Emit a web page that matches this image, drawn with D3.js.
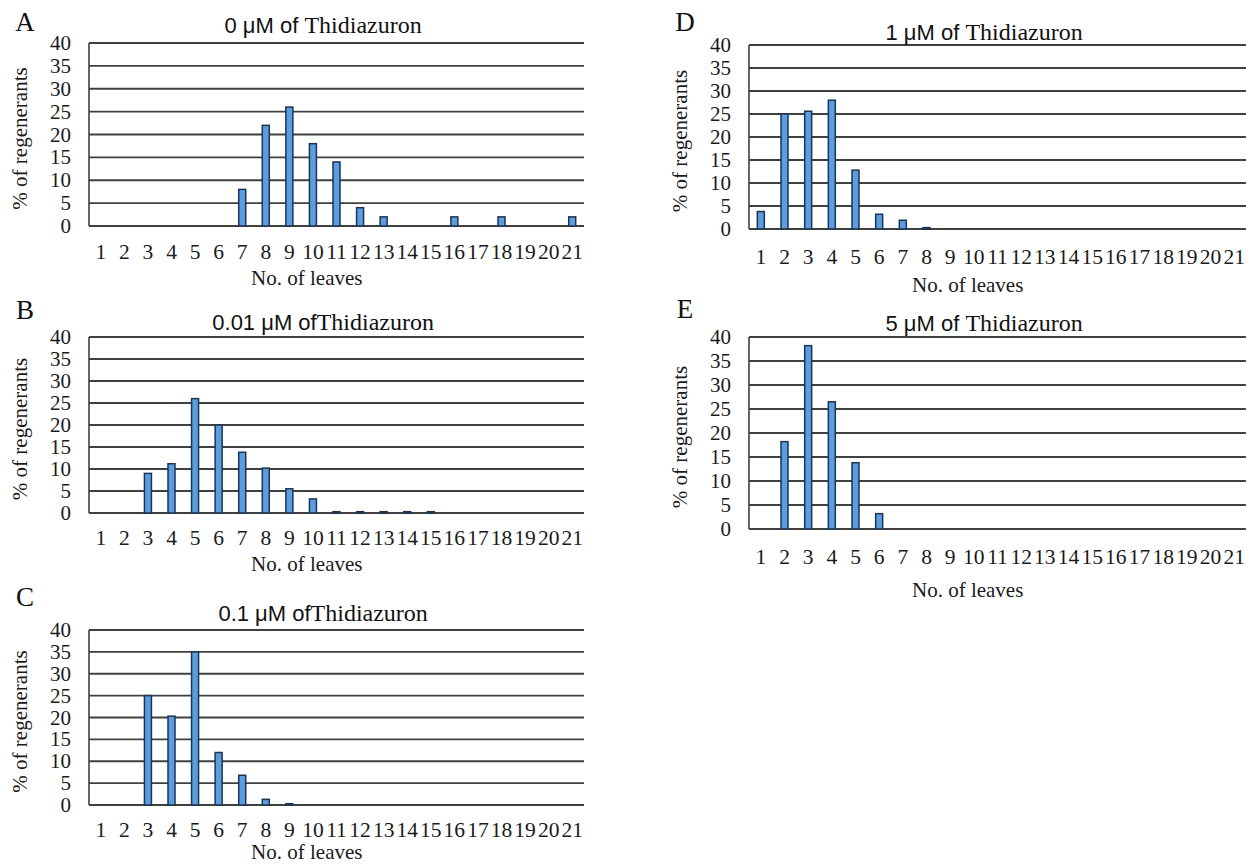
<!DOCTYPE html>
<html>
<head>
<meta charset="utf-8">
<script src="https://cdn.jsdelivr.net/npm/d3@7"></script>
<style>
  body { margin: 0; background: #fff; }
  svg { display: block; }
</style>
</head>
<body>
<svg id="chart" width="1252" height="865"></svg>
<script>
// no. of leaves (x categories)
var leaves = ["1","2","3","4","5","6","7","8","9","10","11","12","13","14","15","16","17","18","19","20","21"];
var yTicks = [0, 5, 10, 15, 20, 25, 30, 35, 40];

// % of regenerants per leaf count
var tdz0    = [0, 0, 0, 0, 0, 0, 8, 22, 26, 18, 14, 4, 2, 0, 0, 2, 0, 2, 0, 0, 2];
var tdz001  = [0, 0, 9, 11.2, 26, 20, 13.8, 10.2, 5.5, 3.2, 0.3, 0.3, 0.3, 0.3, 0.3, 0, 0, 0, 0, 0, 0];
var tdz01   = [0, 0, 25, 20.3, 35, 12, 6.8, 1.3, 0.3, 0, 0, 0, 0, 0, 0, 0, 0, 0, 0, 0, 0];
var tdz1    = [3.8, 25, 25.6, 28, 12.8, 3.2, 1.9, 0.3, 0, 0, 0, 0, 0, 0, 0, 0, 0, 0, 0, 0, 0];
var tdz5    = [0, 18.2, 38.2, 26.5, 13.8, 3.2, 0, 0, 0, 0, 0, 0, 0, 0, 0, 0, 0, 0, 0, 0, 0];

var letters = ["A", "B", "C", "D", "E"];
var doses   = ["0 μM of ", "0.01 μM of", "0.1 μM of", "1 μM of ", "5 μM of "];
var series  = [tdz0, tdz001, tdz01, tdz1, tdz5];

// panel frames + text offsets
var layout = [
  {l: 89,  r: 584,  t: 43,  b: 226, letY: -21, titY: -18, tickY: 26, xtY: 52},
  {l: 89,  r: 584,  t: 337, b: 513, letY: -27, titY: -15, tickY: 25, xtY: 51},
  {l: 89,  r: 584,  t: 630, b: 805, letY: -33, titY: -17, tickY: 25, xtY: 47},
  {l: 749, r: 1246, t: 45,  b: 229, letY: -23, titY: -13, tickY: 28, xtY: 56},
  {l: 749, r: 1246, t: 337, b: 529, letY: -28, titY: -14, tickY: 28, xtY: 61}
];

var serif = "'Liberation Serif', 'Times New Roman', serif";
var sans = "'Liberation Sans', Arial, sans-serif";

var svg = d3.select("#chart");

for (var i = 0; i < series.length; i++) {
  drawPanel(i);
}

function drawPanel(i) {
  var L = layout[i];
  var g = svg.append("g");

  var x = d3.scaleBand().domain(leaves).range([L.l, L.r]);
  var y = d3.scaleLinear().domain([0, 40]).range([L.b, L.t]);

  // gridlines
  g.selectAll("line.grid")
    .data(yTicks)
    .enter()
    .append("line")
    .attr("class", "grid")
    .attr("x1", L.l)
    .attr("x2", L.r)
    .attr("y1", function(d) { return y(d); })
    .attr("y2", function(d) { return y(d); })
    .style("stroke", "#404040")
    .style("stroke-width", 1.8);

  // left axis line
  g.append("line")
    .attr("x1", L.l).attr("x2", L.l)
    .attr("y1", y(40)).attr("y2", y(0))
    .style("stroke", "#404040")
    .style("stroke-width", 1.6);

  // y tick labels
  g.selectAll("text.ytick")
    .data(yTicks)
    .enter()
    .append("text")
    .attr("class", "ytick")
    .attr("x", L.l - 18)
    .attr("y", function(d) { return y(d); })
    .attr("text-anchor", "end")
    .attr("dominant-baseline", "central")
    .style("font-family", serif)
    .style("font-size", "21px")
    .style("fill", "#1a1a1a")
    .text(function(d) { return d; });

  // x tick labels
  g.selectAll("text.xtick")
    .data(leaves)
    .enter()
    .append("text")
    .attr("class", "xtick")
    .attr("x", function(d) { return x(d) + x.bandwidth() / 2; })
    .attr("y", L.b + L.tickY)
    .attr("text-anchor", "middle")
    .attr("dominant-baseline", "central")
    .style("font-family", serif)
    .style("font-size", "21.5px")
    .style("fill", "#1a1a1a")
    .text(function(d) { return d; });

  // bars
  var bw = 7;
  g.selectAll("rect.bar")
    .data(series[i].map(function(v, k) { return {leaf: leaves[k], value: v}; })
      .filter(function(d) { return d.value > 0; }))
    .enter()
    .append("rect")
    .attr("class", "bar")
    .attr("x", function(d) { return x(d.leaf) + x.bandwidth() / 2 - bw / 2; })
    .attr("y", function(d) { return y(d.value); })
    .attr("width", bw)
    .attr("height", function(d) { return y(0) - y(d.value); })
    .style("fill", "#5b9de0")
    .style("stroke", "#1c3550")
    .style("stroke-width", 1.5);

  // panel letter
  g.append("text")
    .attr("x", L.l - 64)
    .attr("y", L.t + L.letY)
    .attr("text-anchor", "middle")
    .attr("dominant-baseline", "central")
    .style("font-family", serif)
    .style("font-size", "27px")
    .style("fill", "#111")
    .text(letters[i]);

  // title: dose in sans, compound name in serif
  var title = g.append("text")
    .attr("x", L.l + (L.r - L.l) * 0.473)
    .attr("y", L.t + L.titY)
    .attr("text-anchor", "middle")
    .attr("dominant-baseline", "central")
    .style("fill", "#111");
  title.append("tspan")
    .style("font-family", sans)
    .style("font-size", "22px")
    .text(doses[i]);
  title.append("tspan")
    .style("font-family", serif)
    .style("font-size", "24px")
    .text("Thidiazuron");

  // x axis title
  g.append("text")
    .attr("x", L.l + (L.r - L.l) * 0.44)
    .attr("y", L.b + L.xtY)
    .attr("text-anchor", "middle")
    .attr("dominant-baseline", "central")
    .style("font-family", serif)
    .style("font-size", "21px")
    .style("fill", "#1a1a1a")
    .text("No. of leaves");

  // y axis title
  var cy = (L.t + L.b) / 2 + 4;
  g.append("text")
    .attr("transform", "translate(" + (L.l - 69) + "," + cy + ") rotate(-90)")
    .attr("text-anchor", "middle")
    .attr("dominant-baseline", "central")
    .style("font-family", serif)
    .style("font-size", "21px")
    .style("fill", "#1a1a1a")
    .text("% of regenerants");
}
</script>
</body>
</html>
